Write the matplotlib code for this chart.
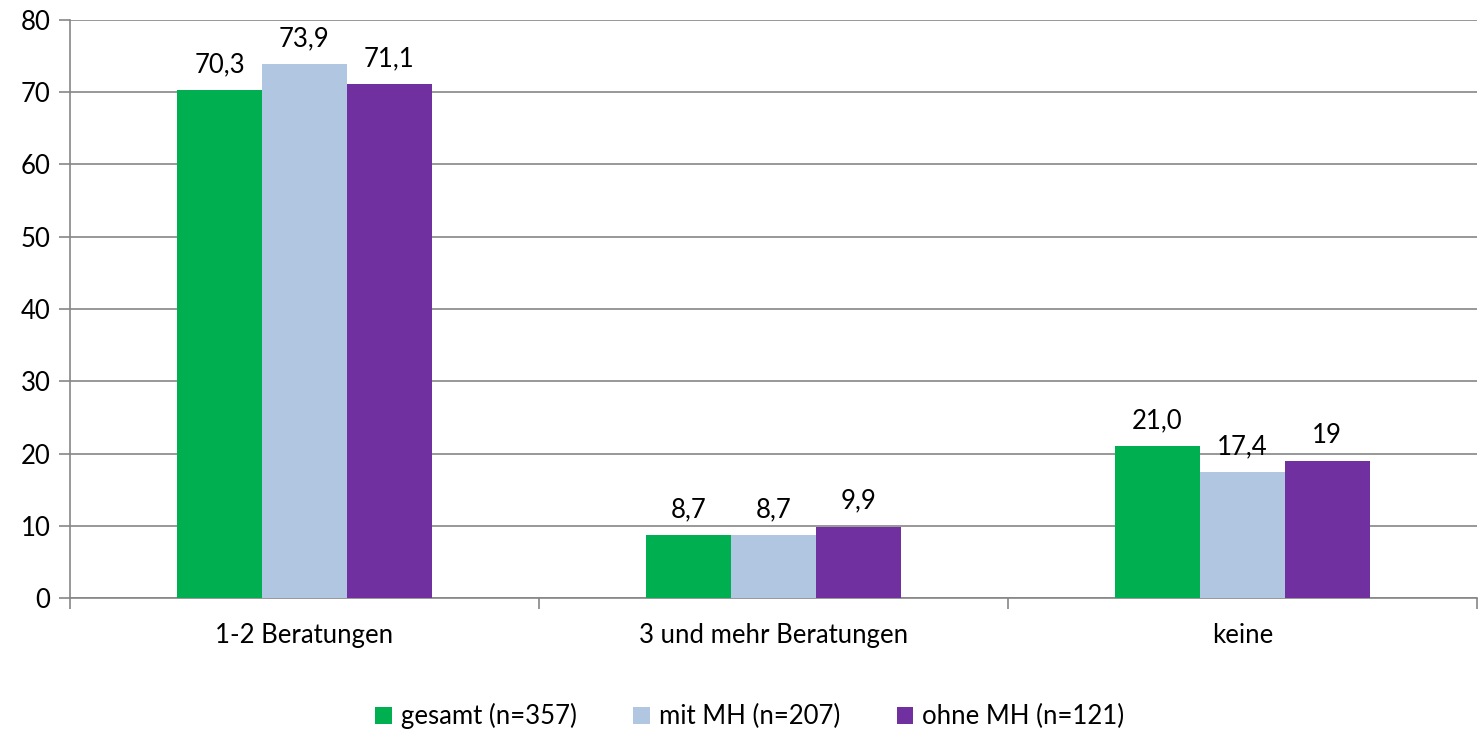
import numpy as np
import matplotlib.pyplot as plt

plt.rcParams['font.family'] = ['Lato', 'DejaVu Sans']

categories = ['1-2 Beratungen', '3 und mehr Beratungen', 'keine']
series_names = ['gesamt (n=357)', 'mit MH (n=207)', 'ohne MH (n=121)']
gesamt = [70.3, 8.7, 21.0]
mit_mh = [73.9, 8.7, 17.4]
ohne_mh = [71.1, 9.9, 19.0]
value_labels = [['70,3', '8,7', '21,0'],
                ['73,9', '8,7', '17,4'],
                ['71,1', '9,9', '19']]
colors = ['#00b050', '#b0c6e1', '#7030a0']

fig = plt.figure(figsize=(14.79, 7.32), dpi=100)
ax = fig.add_axes([0.0473, 0.183, 0.9513, 0.7897])

x = np.arange(len(categories))
w = 0.181
for i, (vals, col) in enumerate(zip([gesamt, mit_mh, ohne_mh], colors)):
    bars = ax.bar(x + (i - 1) * w, vals, w, color=col, label=series_names[i], zorder=3)
    for b, txt in zip(bars, value_labels[i]):
        ax.text(b.get_x() + b.get_width() / 2, b.get_height() + 1.8, txt,
                ha='center', va='bottom', fontsize=18.5, color='#000000')

ax.set_xlim(-0.5, 2.5)
ax.set_ylim(0, 80)
ax.set_yticks(range(0, 81, 10))
ax.yaxis.grid(True, color='#868686', linewidth=1.2, zorder=0)
ax.set_axisbelow(True)

ax.set_xticks(x)
ax.set_xticklabels(categories, fontsize=18.5)
ax.set_xticks([-0.5, 0.5, 1.5, 2.5], minor=True)
ax.tick_params(axis='x', which='major', length=0, pad=18)
ax.tick_params(axis='x', which='minor', length=8, width=1.2, color='#868686', direction='out')
ax.tick_params(axis='y', length=8, width=1.2, color='#868686', labelsize=18.5, pad=6)

for s in ['top', 'right']:
    ax.spines[s].set_visible(False)
for s in ['left', 'bottom']:
    ax.spines[s].set_color('#868686')
    ax.spines[s].set_linewidth(1.2)

fig.legend(loc='lower center', bbox_to_anchor=(0.507, -0.028), ncol=3, frameon=False,
           fontsize=18.5, handlelength=0.65, handleheight=0.65, handletextpad=0.35,
           columnspacing=2.2)

fig.savefig('out.png', dpi=100)
